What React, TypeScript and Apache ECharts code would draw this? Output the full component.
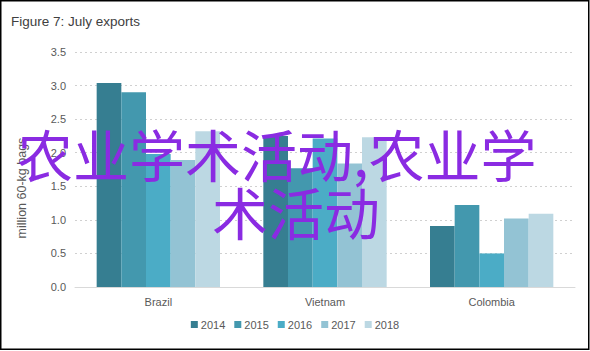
import React, { useEffect, useRef } from "react";
import * as echarts from "echarts";

const categories = ["Brazil", "Vietnam", "Colombia"];
const years = ["2014", "2015", "2016", "2017", "2018"];
const values2014 = [3.04, 2.25, 0.91];
const values2015 = [2.9, 1.77, 1.22];
const values2016 = [1.98, 2.21, 0.5];
const values2017 = [1.89, 1.84, 1.02];
const values2018 = [2.32, 2.23, 1.09];
const yTicks = [0, 0.5, 1, 1.5, 2, 2.5, 3, 3.5];

const colors = ["#367e91", "#4398ae", "#4bacc6", "#93c3d4", "#bcd8e3"];
const seriesValues = [values2014, values2015, values2016, values2017, values2018];

export default function App() {
  const ref = useRef<HTMLDivElement>(null);
  useEffect(() => {
    if (!ref.current) return;
    const chart = echarts.init(ref.current, null, { renderer: "svg" });
    const font = "'Liberation Sans', Arial, sans-serif";
    chart.setOption({
      animation: false,
      backgroundColor: "#ffffff",
      title: {
        text: "Figure 7: July exports",
        left: 6,
        top: 9,
        textStyle: { fontFamily: font, fontSize: 13.5, fontWeight: "normal", color: "#404040" },
      },
      grid: { left: 75, right: 15, top: 52, bottom: 64 },
      legend: {
        data: years,
        bottom: 16,
        left: "center",
        itemWidth: 7,
        itemHeight: 7,
        itemGap: 9,
        icon: "rect",
        textStyle: { fontFamily: font, fontSize: 11, color: "#595959", padding: [0, 0, 0, -2] },
      },
      xAxis: {
        type: "category",
        data: categories,
        axisLine: { lineStyle: { color: "#d9d9d9", width: 1 } },
        axisTick: { show: false },
        axisLabel: { fontFamily: font, fontSize: 11, color: "#595959", margin: 9 },
      },
      yAxis: {
        type: "value",
        min: 0,
        max: yTicks[yTicks.length - 1],
        interval: 0.5,
        axisLine: { show: false },
        axisTick: { show: false },
        splitLine: { lineStyle: { color: "#d0d0d0", type: [2, 3], width: 1 } },
        axisLabel: {
          fontFamily: font,
          fontSize: 11,
          color: "#595959",
          margin: 9,
          formatter: (v: number) => v.toFixed(1),
        },
      },
      series: years.map((y, i) => ({
        name: y,
        type: "bar",
        data: seriesValues[i],
        barGap: "0%",
        barCategoryGap: "26%",
        itemStyle: { color: colors[i] },
      })),
      graphic: [
        {
          type: "rect",
          shape: { x: 0.75, y: 0.75, width: 588, height: 348.5 },
          style: { fill: "none", stroke: "#000000", lineWidth: 1.5 },
          z: 200,
        },
        {
          type: "text",
          x: 22,
          y: 188,
          rotation: Math.PI / 2,
          style: {
            text: "million 60-kg bags",
            font: `12.5px ${font}`,
            fill: "#595959",
            textAlign: "center",
            textVerticalAlign: "middle",
          },
          z: 50,
        },
        {
          type: "text",
          left: 17,
          top: 124,
          style: {
            text: "农业学术活动,农业学",
            font: "56px 'Noto Sans CJK SC'",
            fill: "#8a2be2",
          },
          z: 100,
        },
        {
          type: "text",
          left: 212,
          top: 182,
          style: {
            text: "术活动",
            font: "56px 'Noto Sans CJK SC'",
            fill: "#8a2be2",
          },
          z: 100,
        },
      ],
    });
    return () => chart.dispose();
  }, []);
  return (
    <div
      ref={ref}
      style={{ position: "absolute", left: 0, top: 0, width: 590, height: 351 }}
    />
  );
}
